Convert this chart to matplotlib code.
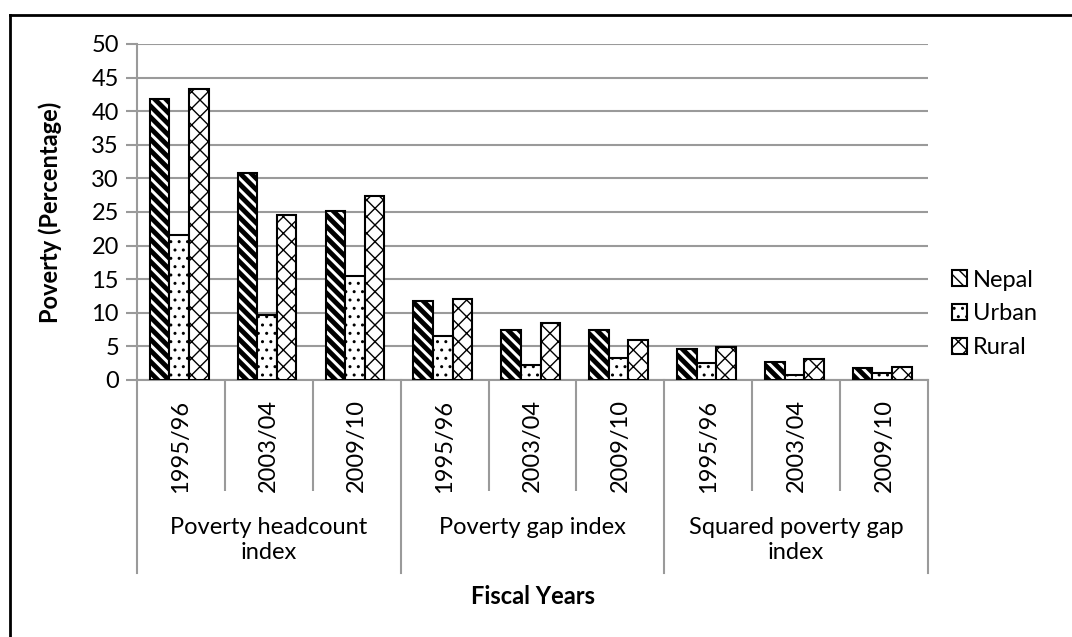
import matplotlib
matplotlib.use("Agg")
import numpy as np
from matplotlib import pyplot as plt
from matplotlib.lines import Line2D
from matplotlib.transforms import blended_transform_factory

plt.rcParams["font.family"] = ["Lato", "DejaVu Sans"]

years = ["1995/96", "2003/04", "2009/10"] * 3
groups = ["Poverty headcount\nindex", "Poverty gap index", "Squared poverty gap\nindex"]
nepal = [41.8, 30.8, 25.2, 11.8, 7.5, 7.5, 4.6, 2.7, 1.8]
urban = [21.6, 9.6, 15.5, 6.5, 2.2, 3.2, 2.6, 0.7, 1.0]
rural = [43.3, 24.6, 27.4, 12.1, 8.5, 5.9, 4.9, 3.1, 2.0]

grey = "#9a9a9a"
fs = 17

fig = plt.figure(figsize=(10.72, 6.37), dpi=100)
ax = fig.add_axes([137 / 1072, 1 - 380 / 637, (928 - 137) / 1072, (380 - 44) / 637])

x = np.arange(len(years))
w = 0.223
series = [("Nepal", nepal, "\\\\\\", 3.5), ("Urban", urban, "..", 1.0), ("Rural", rural, "xx", 1.0)]
handles = []
for i, (name, vals, hatch, hlw) in enumerate(series):
    bars = ax.bar(x + (i - 1) * w - 0.02, vals, width=w, color="white", edgecolor="black",
                  linewidth=1.5, hatch=hatch, label=name, zorder=3)
    for b in bars:
        if hasattr(b, "set_hatch_linewidth"):
            b.set_hatch_linewidth(hlw)
    handles.append(bars)

ax.set_ylim(0, 50)
ax.set_xlim(-0.5, len(years) - 0.5)
ax.set_yticks(range(0, 51, 5))
ax.yaxis.grid(True, color=grey, linewidth=1.5, zorder=0)
ax.set_axisbelow(True)
for s in ["top", "right"]:
    ax.spines[s].set_visible(False)
for s in ["left", "bottom"]:
    ax.spines[s].set_color(grey)
    ax.spines[s].set_linewidth(1.5)
ax.tick_params(axis="y", length=8, width=1.5, color=grey, labelsize=fs, pad=5)

# year labels at category centres, separators between categories
ax.set_xticks(x)
ax.set_xticklabels(years, rotation=90, fontsize=fs, va="top")
ax.tick_params(axis="x", which="major", length=0, pad=14)
ax.set_xticks([0.5, 1.5, 3.5, 4.5, 6.5, 7.5], minor=True)
ax.tick_params(axis="x", which="minor", length=80, width=1.5, color=grey)

trans = blended_transform_factory(ax.transData, ax.transAxes)
for b in [-0.5, 2.5, 5.5, 8.5]:
    ax.plot([b, b], [0, -193 / 336], transform=trans, color=grey, linewidth=1.5, clip_on=False)
for g, label in enumerate(groups):
    ax.text(3 * g + 1, -137 / 336, label, transform=trans, ha="center", va="top",
            fontsize=fs, linespacing=1.25)

ax.set_ylabel("Poverty (Percentage)", fontsize=fs, fontweight="bold")
ax.yaxis.set_label_coords((62 - 137) / 791, 0.5)
fig.text(533 / 1072, 1 - 596 / 637, "Fiscal Years", ha="center", va="center",
         fontsize=fs, fontweight="bold")

ax.legend(handles=handles, loc="center left", bbox_to_anchor=(940 / 1072, 1 - 314 / 637),
          bbox_transform=fig.transFigure, frameon=False, fontsize=fs, handlelength=0.65,
          handleheight=0.65, handletextpad=0.25, labelspacing=0.55, borderpad=0)

# outer frame
fig.add_artist(Line2D([10 / 1072, 1.0], [1 - 15 / 637] * 2, color="black", linewidth=2))
fig.add_artist(Line2D([10 / 1072] * 2, [0.0, 1 - 15 / 637], color="black", linewidth=2))

fig.savefig("out.png", dpi=100)
